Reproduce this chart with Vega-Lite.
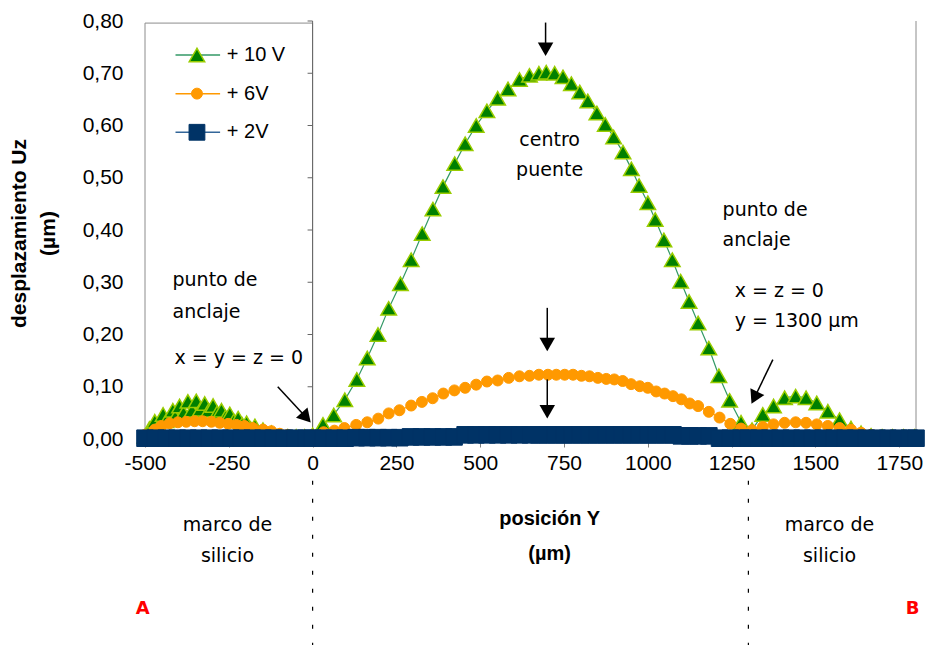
{
  "$schema": "https://vega.github.io/schema/vega-lite/v6.json",
  "width": 771,
  "height": 418,
  "autosize": {"type": "none"},
  "padding": {"left": 145, "top": 21, "right": 12, "bottom": 206},
  "config": {"view": {"stroke": null}, "font": "Liberation Sans"},
  "datasets": {
    "series": [
      {"s": "10V", "x": -500, "y": 0.005}, {"s": "10V", "x": -487, "y": 0.02}, {"s": "10V", "x": -471, "y": 0.034}, {"s": "10V", "x": -462, "y": 0.022},
      {"s": "10V", "x": -446, "y": 0.047}, {"s": "10V", "x": -437, "y": 0.035}, {"s": "10V", "x": -417, "y": 0.055}, {"s": "10V", "x": -410, "y": 0.042},
      {"s": "10V", "x": -397, "y": 0.063}, {"s": "10V", "x": -385, "y": 0.05}, {"s": "10V", "x": -372, "y": 0.072}, {"s": "10V", "x": -360, "y": 0.055},
      {"s": "10V", "x": -347, "y": 0.073}, {"s": "10V", "x": -335, "y": 0.057}, {"s": "10V", "x": -322, "y": 0.068}, {"s": "10V", "x": -310, "y": 0.055},
      {"s": "10V", "x": -297, "y": 0.064}, {"s": "10V", "x": -285, "y": 0.05}, {"s": "10V", "x": -272, "y": 0.055}, {"s": "10V", "x": -260, "y": 0.042},
      {"s": "10V", "x": -247, "y": 0.048}, {"s": "10V", "x": -235, "y": 0.035}, {"s": "10V", "x": -222, "y": 0.04}, {"s": "10V", "x": -210, "y": 0.028},
      {"s": "10V", "x": -197, "y": 0.031}, {"s": "10V", "x": -185, "y": 0.02}, {"s": "10V", "x": -172, "y": 0.025}, {"s": "10V", "x": -148, "y": 0.018},
      {"s": "10V", "x": -123, "y": 0.012}, {"s": "10V", "x": -98, "y": 0.006}, {"s": "10V", "x": -74, "y": 0.005}, {"s": "10V", "x": -49, "y": 0.005},
      {"s": "10V", "x": -24, "y": 0.005}, {"s": "10V", "x": 0, "y": 0.008}, {"s": "10V", "x": 31, "y": 0.028}, {"s": "10V", "x": 63, "y": 0.046},
      {"s": "10V", "x": 96, "y": 0.075}, {"s": "10V", "x": 132, "y": 0.114}, {"s": "10V", "x": 163, "y": 0.155}, {"s": "10V", "x": 195, "y": 0.2},
      {"s": "10V", "x": 227, "y": 0.25}, {"s": "10V", "x": 262, "y": 0.297}, {"s": "10V", "x": 294, "y": 0.343}, {"s": "10V", "x": 327, "y": 0.393},
      {"s": "10V", "x": 359, "y": 0.44}, {"s": "10V", "x": 389, "y": 0.483}, {"s": "10V", "x": 424, "y": 0.527}, {"s": "10V", "x": 455, "y": 0.565},
      {"s": "10V", "x": 488, "y": 0.6}, {"s": "10V", "x": 520, "y": 0.628}, {"s": "10V", "x": 552, "y": 0.652}, {"s": "10V", "x": 583, "y": 0.67},
      {"s": "10V", "x": 617, "y": 0.688}, {"s": "10V", "x": 647, "y": 0.696}, {"s": "10V", "x": 675, "y": 0.7}, {"s": "10V", "x": 697, "y": 0.702},
      {"s": "10V", "x": 722, "y": 0.7}, {"s": "10V", "x": 747, "y": 0.693}, {"s": "10V", "x": 772, "y": 0.68}, {"s": "10V", "x": 797, "y": 0.664},
      {"s": "10V", "x": 821, "y": 0.647}, {"s": "10V", "x": 848, "y": 0.624}, {"s": "10V", "x": 873, "y": 0.602}, {"s": "10V", "x": 898, "y": 0.578},
      {"s": "10V", "x": 926, "y": 0.549}, {"s": "10V", "x": 951, "y": 0.517}, {"s": "10V", "x": 974, "y": 0.485}, {"s": "10V", "x": 1000, "y": 0.452},
      {"s": "10V", "x": 1022, "y": 0.42}, {"s": "10V", "x": 1048, "y": 0.381}, {"s": "10V", "x": 1073, "y": 0.343}, {"s": "10V", "x": 1098, "y": 0.302},
      {"s": "10V", "x": 1123, "y": 0.263}, {"s": "10V", "x": 1150, "y": 0.222}, {"s": "10V", "x": 1182, "y": 0.174}, {"s": "10V", "x": 1212, "y": 0.121},
      {"s": "10V", "x": 1244, "y": 0.074}, {"s": "10V", "x": 1278, "y": 0.032}, {"s": "10V", "x": 1311, "y": 0.018}, {"s": "10V", "x": 1343, "y": 0.047},
      {"s": "10V", "x": 1375, "y": 0.063}, {"s": "10V", "x": 1408, "y": 0.079}, {"s": "10V", "x": 1441, "y": 0.082}, {"s": "10V", "x": 1472, "y": 0.079},
      {"s": "10V", "x": 1504, "y": 0.069}, {"s": "10V", "x": 1537, "y": 0.053}, {"s": "10V", "x": 1572, "y": 0.037}, {"s": "10V", "x": 1606, "y": 0.021},
      {"s": "10V", "x": 1636, "y": 0.012}, {"s": "10V", "x": 1666, "y": 0.007}, {"s": "10V", "x": 1699, "y": 0.005}, {"s": "10V", "x": 1730, "y": 0.005},
      {"s": "10V", "x": 1763, "y": 0.005}, {"s": "10V", "x": 1796, "y": 0.005},

      {"s": "6V", "x": -500, "y": 0.008}, {"s": "6V", "x": -471, "y": 0.018}, {"s": "6V", "x": -451, "y": 0.025}, {"s": "6V", "x": -427, "y": 0.03},
      {"s": "6V", "x": -402, "y": 0.032}, {"s": "6V", "x": -377, "y": 0.033}, {"s": "6V", "x": -352, "y": 0.034}, {"s": "6V", "x": -328, "y": 0.034},
      {"s": "6V", "x": -302, "y": 0.033}, {"s": "6V", "x": -277, "y": 0.031}, {"s": "6V", "x": -252, "y": 0.029}, {"s": "6V", "x": -227, "y": 0.027},
      {"s": "6V", "x": -203, "y": 0.025}, {"s": "6V", "x": -178, "y": 0.021}, {"s": "6V", "x": -148, "y": 0.018}, {"s": "6V", "x": -123, "y": 0.015},
      {"s": "6V", "x": -98, "y": 0.01}, {"s": "6V", "x": -74, "y": 0.008}, {"s": "6V", "x": -49, "y": 0.006}, {"s": "6V", "x": -24, "y": 0.006},
      {"s": "6V", "x": 0, "y": 0.008}, {"s": "6V", "x": 33, "y": 0.013}, {"s": "6V", "x": 65, "y": 0.016}, {"s": "6V", "x": 95, "y": 0.021},
      {"s": "6V", "x": 130, "y": 0.027}, {"s": "6V", "x": 163, "y": 0.032}, {"s": "6V", "x": 196, "y": 0.039}, {"s": "6V", "x": 227, "y": 0.049},
      {"s": "6V", "x": 259, "y": 0.055}, {"s": "6V", "x": 294, "y": 0.064}, {"s": "6V", "x": 326, "y": 0.071}, {"s": "6V", "x": 358, "y": 0.078},
      {"s": "6V", "x": 390, "y": 0.087}, {"s": "6V", "x": 423, "y": 0.093}, {"s": "6V", "x": 455, "y": 0.098}, {"s": "6V", "x": 488, "y": 0.104},
      {"s": "6V", "x": 520, "y": 0.11}, {"s": "6V", "x": 552, "y": 0.112}, {"s": "6V", "x": 585, "y": 0.117}, {"s": "6V", "x": 617, "y": 0.12},
      {"s": "6V", "x": 647, "y": 0.121}, {"s": "6V", "x": 675, "y": 0.123}, {"s": "6V", "x": 702, "y": 0.123}, {"s": "6V", "x": 727, "y": 0.123},
      {"s": "6V", "x": 752, "y": 0.123}, {"s": "6V", "x": 777, "y": 0.123}, {"s": "6V", "x": 802, "y": 0.121}, {"s": "6V", "x": 826, "y": 0.12},
      {"s": "6V", "x": 851, "y": 0.117}, {"s": "6V", "x": 876, "y": 0.115}, {"s": "6V", "x": 900, "y": 0.114}, {"s": "6V", "x": 925, "y": 0.111},
      {"s": "6V", "x": 950, "y": 0.105}, {"s": "6V", "x": 976, "y": 0.101}, {"s": "6V", "x": 1000, "y": 0.098}, {"s": "6V", "x": 1025, "y": 0.091},
      {"s": "6V", "x": 1050, "y": 0.087}, {"s": "6V", "x": 1075, "y": 0.082}, {"s": "6V", "x": 1100, "y": 0.076}, {"s": "6V", "x": 1125, "y": 0.068},
      {"s": "6V", "x": 1150, "y": 0.063}, {"s": "6V", "x": 1182, "y": 0.052}, {"s": "6V", "x": 1214, "y": 0.041}, {"s": "6V", "x": 1246, "y": 0.029},
      {"s": "6V", "x": 1278, "y": 0.02}, {"s": "6V", "x": 1311, "y": 0.017}, {"s": "6V", "x": 1343, "y": 0.023}, {"s": "6V", "x": 1375, "y": 0.028},
      {"s": "6V", "x": 1408, "y": 0.031}, {"s": "6V", "x": 1441, "y": 0.032}, {"s": "6V", "x": 1472, "y": 0.031}, {"s": "6V", "x": 1504, "y": 0.028},
      {"s": "6V", "x": 1537, "y": 0.025}, {"s": "6V", "x": 1572, "y": 0.021}, {"s": "6V", "x": 1606, "y": 0.018}, {"s": "6V", "x": 1636, "y": 0.012},
      {"s": "6V", "x": 1666, "y": 0.008}, {"s": "6V", "x": 1699, "y": 0.006}, {"s": "6V", "x": 1730, "y": 0.005}, {"s": "6V", "x": 1763, "y": 0.005},
      {"s": "6V", "x": 1796, "y": 0.005},

      {"s": "2V", "x": -500, "y": 0.0015}, {"s": "2V", "x": -468, "y": 0.0015}, {"s": "2V", "x": -436, "y": 0.0015}, {"s": "2V", "x": -404, "y": 0.0015},
      {"s": "2V", "x": -372, "y": 0.0015}, {"s": "2V", "x": -340, "y": 0.0015}, {"s": "2V", "x": -308, "y": 0.0015}, {"s": "2V", "x": -276, "y": 0.0015},
      {"s": "2V", "x": -244, "y": 0.0015}, {"s": "2V", "x": -212, "y": 0.0015}, {"s": "2V", "x": -180, "y": 0.0015}, {"s": "2V", "x": -148, "y": 0.0015},
      {"s": "2V", "x": -116, "y": 0.0015}, {"s": "2V", "x": -84, "y": 0.0015}, {"s": "2V", "x": -52, "y": 0.0015}, {"s": "2V", "x": -20, "y": 0.0015},
      {"s": "2V", "x": 0, "y": 0.0015}, {"s": "2V", "x": 32, "y": 0.0015}, {"s": "2V", "x": 65, "y": 0.0015}, {"s": "2V", "x": 97, "y": 0.0015},
      {"s": "2V", "x": 130, "y": 0.0025}, {"s": "2V", "x": 162, "y": 0.0025}, {"s": "2V", "x": 195, "y": 0.0025}, {"s": "2V", "x": 227, "y": 0.0025},
      {"s": "2V", "x": 260, "y": 0.0025}, {"s": "2V", "x": 292, "y": 0.004}, {"s": "2V", "x": 325, "y": 0.004}, {"s": "2V", "x": 357, "y": 0.004},
      {"s": "2V", "x": 390, "y": 0.004}, {"s": "2V", "x": 422, "y": 0.004}, {"s": "2V", "x": 455, "y": 0.008}, {"s": "2V", "x": 487, "y": 0.008},
      {"s": "2V", "x": 520, "y": 0.008}, {"s": "2V", "x": 552, "y": 0.008}, {"s": "2V", "x": 585, "y": 0.008}, {"s": "2V", "x": 617, "y": 0.008},
      {"s": "2V", "x": 650, "y": 0.008}, {"s": "2V", "x": 675, "y": 0.008}, {"s": "2V", "x": 700, "y": 0.008}, {"s": "2V", "x": 725, "y": 0.008},
      {"s": "2V", "x": 750, "y": 0.008}, {"s": "2V", "x": 775, "y": 0.008}, {"s": "2V", "x": 800, "y": 0.008}, {"s": "2V", "x": 825, "y": 0.008},
      {"s": "2V", "x": 850, "y": 0.008}, {"s": "2V", "x": 875, "y": 0.008}, {"s": "2V", "x": 900, "y": 0.008}, {"s": "2V", "x": 925, "y": 0.008},
      {"s": "2V", "x": 950, "y": 0.008}, {"s": "2V", "x": 975, "y": 0.008}, {"s": "2V", "x": 1000, "y": 0.008}, {"s": "2V", "x": 1025, "y": 0.008},
      {"s": "2V", "x": 1050, "y": 0.008}, {"s": "2V", "x": 1075, "y": 0.008}, {"s": "2V", "x": 1100, "y": 0.006}, {"s": "2V", "x": 1125, "y": 0.006},
      {"s": "2V", "x": 1150, "y": 0.006}, {"s": "2V", "x": 1182, "y": 0.006}, {"s": "2V", "x": 1214, "y": 0.0015}, {"s": "2V", "x": 1246, "y": 0.0015},
      {"s": "2V", "x": 1278, "y": 0.0015}, {"s": "2V", "x": 1300, "y": 0.0015}, {"s": "2V", "x": 1332, "y": 0.0015}, {"s": "2V", "x": 1364, "y": 0.0015},
      {"s": "2V", "x": 1396, "y": 0.0015}, {"s": "2V", "x": 1428, "y": 0.0015}, {"s": "2V", "x": 1460, "y": 0.0015}, {"s": "2V", "x": 1492, "y": 0.0015},
      {"s": "2V", "x": 1524, "y": 0.0015}, {"s": "2V", "x": 1556, "y": 0.0015}, {"s": "2V", "x": 1588, "y": 0.0015}, {"s": "2V", "x": 1620, "y": 0.0015},
      {"s": "2V", "x": 1652, "y": 0.0015}, {"s": "2V", "x": 1684, "y": 0.0015}, {"s": "2V", "x": 1716, "y": 0.0015}, {"s": "2V", "x": 1748, "y": 0.0015},
      {"s": "2V", "x": 1780, "y": 0.0015}, {"s": "2V", "x": 1800, "y": 0.0015}
    ],
    "legend": [
      {"s": "10V", "label": "+ 10 V", "x": -409, "x2": -276, "xm": -345, "xt": -256, "y": 0.735},
      {"s": "6V", "label": "+ 6V", "x": -409, "x2": -276, "xm": -345, "xt": -256, "y": 0.661},
      {"s": "2V", "label": "+ 2V", "x": -409, "x2": -276, "xm": -345, "xt": -256, "y": 0.587}
    ],
    "yticks": [
      {"y": 0}, {"y": 0.1}, {"y": 0.2}, {"y": 0.3}, {"y": 0.4}, {"y": 0.5}, {"y": 0.6}, {"y": 0.7}, {"y": 0.8}
    ],
    "textC": [
      {"t": "centro", "x": 707, "y": 0.573},
      {"t": "puente", "x": 707, "y": 0.515},
      {"t": "marco de", "x": -254, "y": -0.165},
      {"t": "silicio", "x": -254, "y": -0.223},
      {"t": "marco de", "x": 1542, "y": -0.165},
      {"t": "silicio", "x": 1542, "y": -0.223}
    ],
    "textL": [
      {"t": "punto de", "x": 1223, "y": 0.439},
      {"t": "anclaje", "x": 1223, "y": 0.381},
      {"t": "x = z = 0", "x": 1259, "y": 0.283},
      {"t": "y = 1300 µm", "x": 1259, "y": 0.225},
      {"t": "punto de", "x": -418, "y": 0.305},
      {"t": "anclaje", "x": -418, "y": 0.244},
      {"t": "x = y = z = 0", "x": -412, "y": 0.155}
    ],
    "textB": [
      {"t": "posición Y", "x": 707, "y": -0.154},
      {"t": "(µm)", "x": 707, "y": -0.221}
    ],
    "textR": [
      {"t": "A", "x": -507, "y": -0.326},
      {"t": "B", "x": 1790, "y": -0.326}
    ],
    "shafts": [
      {"x": 695, "y": 0.797, "x2": 695, "y2": 0.748},
      {"x": 700, "y": 0.251, "x2": 700, "y2": 0.182},
      {"x": 700, "y": 0.114, "x2": 700, "y2": 0.054},
      {"x": -104, "y": 0.1, "x2": -19, "y2": 0.041},
      {"x": 1373, "y": 0.152, "x2": 1318, "y2": 0.079}
    ],
    "heads": [
      {"x": 695, "y": 0.746, "a": 0},
      {"x": 700, "y": 0.181, "a": 0},
      {"x": 700, "y": 0.052, "a": 0},
      {"x": -19, "y": 0.041, "a": -42},
      {"x": 1318, "y": 0.079, "a": 26}
    ],
    "dotted": [
      {"x": 0, "y": -0.08, "y2": -0.4},
      {"x": 1300, "y": -0.08, "y2": -0.4}
    ],
    "box": [
      {"x": -500, "x2": 0, "y": 0, "y2": 0.796}
    ],
    "rborder": [
      {"x": 1800, "y": 0, "y2": 0.8}
    ]
  },
  "layer": [
    {
      "data": {"name": "box"},
      "mark": {"type": "rect", "filled": false, "stroke": "#8c8c8c", "strokeWidth": 1},
      "encoding": {
        "x": {"field": "x", "type": "quantitative", "scale": {"domain": [-500, 1800], "nice": false, "zero": false},
          "axis": {"values": [-500, -250, 0, 250, 500, 750, 1000, 1250, 1500, 1750], "title": null, "grid": false,
            "labelExpr": "toString(datum.value)", "labelFont": "Liberation Sans", "labelFontSize": 21, "labelColor": "#000",
            "tickSize": 8, "tickColor": "#808080", "domainColor": "#808080", "labelPadding": 5, "labelFlush": false, "labelOverlap": false}},
        "x2": {"field": "x2"},
        "y": {"field": "y", "type": "quantitative", "scale": {"domain": [0, 0.8], "nice": false, "zero": false},
          "axis": {"values": [0, 0.1, 0.2, 0.3, 0.4, 0.5, 0.6, 0.7, 0.8], "grid": false, "domain": false, "ticks": false,
            "labelExpr": "replace(format(datum.value, '.2f'), '.', ',')", "labelFont": "Liberation Sans", "labelFontSize": 21,
            "labelColor": "#000", "labelPadding": 22, "labelFlush": false, "labelOverlap": false,
            "title": ["desplazamiento Uz", "(µm)"], "titleFont": "Liberation Sans", "titleFontSize": 21, "titleFontWeight": "bold",
            "titleColor": "#000", "titleAngle": -90, "titleAlign": "center", "titleBaseline": "top", "titleLineHeight": 29,
            "titleX": -137, "titleY": 212}},
        "y2": {"field": "y2"}
      }
    },
    {
      "data": {"name": "rborder"},
      "mark": {"type": "rule", "stroke": "#8c8c8c", "strokeWidth": 1},
      "encoding": {
        "x": {"field": "x", "type": "quantitative"},
        "y": {"field": "y", "type": "quantitative"},
        "y2": {"field": "y2"}
      }
    },
    {
      "data": {"name": "rborder"},
      "mark": {"type": "rule", "stroke": "#666666", "strokeWidth": 1},
      "encoding": {
        "x": {"datum": 0, "type": "quantitative"},
        "y": {"datum": 0, "type": "quantitative"},
        "y2": {"datum": 0.8}
      }
    },
    {
      "data": {"name": "yticks"},
      "mark": {"type": "rule", "stroke": "#666666", "strokeWidth": 1},
      "encoding": {
        "x": {"datum": -15, "type": "quantitative"},
        "x2": {"datum": 0},
        "y": {"field": "y", "type": "quantitative"}
      }
    },
    {
      "data": {"name": "dotted"},
      "mark": {"type": "rule", "stroke": "#000000", "strokeWidth": 1.2, "strokeDash": [4, 14], "clip": false},
      "encoding": {
        "x": {"field": "x", "type": "quantitative"},
        "y": {"field": "y", "type": "quantitative"},
        "y2": {"field": "y2"}
      }
    },
    {
      "data": {"name": "series"},
      "mark": {"type": "line", "strokeWidth": 1.2, "clip": false},
      "encoding": {
        "x": {"field": "x", "type": "quantitative"},
        "y": {"field": "y", "type": "quantitative"},
        "order": {"field": "x", "type": "quantitative"},
        "color": {"field": "s", "type": "nominal", "legend": null,
          "scale": {"domain": ["10V", "6V", "2V"], "range": ["#339966", "#ff9900", "#336699"]}}
      }
    },
    {
      "data": {"name": "series"},
      "transform": [{"filter": {"field": "s", "equal": "10V"}}],
      "mark": {"type": "point", "shape": "triangle-up", "filled": true, "opacity": 1, "fill": "#008000", "stroke": "#99cc00", "strokeWidth": 1.5, "size": 240, "clip": false},
      "encoding": {
        "x": {"field": "x", "type": "quantitative"},
        "y": {"field": "y", "type": "quantitative"}
      }
    },
    {
      "data": {"name": "series"},
      "transform": [{"filter": {"field": "s", "equal": "6V"}}],
      "mark": {"type": "point", "shape": "circle", "filled": true, "opacity": 1, "fill": "#ff9900", "stroke": "#ff9900", "strokeWidth": 1, "size": 120, "clip": false},
      "encoding": {
        "x": {"field": "x", "type": "quantitative"},
        "y": {"field": "y", "type": "quantitative"}
      }
    },
    {
      "data": {"name": "series"},
      "transform": [{"filter": {"field": "s", "equal": "2V"}}],
      "mark": {"type": "point", "shape": "square", "filled": true, "opacity": 1, "fill": "#003366", "stroke": "#003366", "strokeWidth": 1, "size": 275, "clip": false},
      "encoding": {
        "x": {"field": "x", "type": "quantitative"},
        "y": {"field": "y", "type": "quantitative"}
      }
    },
    {
      "data": {"name": "legend"},
      "mark": {"type": "rule", "strokeWidth": 1.5},
      "encoding": {
        "x": {"field": "x", "type": "quantitative"},
        "x2": {"field": "x2"},
        "y": {"field": "y", "type": "quantitative"},
        "color": {"field": "s", "type": "nominal", "legend": null,
          "scale": {"domain": ["10V", "6V", "2V"], "range": ["#339966", "#ff9900", "#336699"]}}
      }
    },
    {
      "data": {"name": "legend"},
      "transform": [{"filter": {"field": "s", "equal": "10V"}}],
      "mark": {"type": "point", "shape": "triangle-up", "filled": true, "opacity": 1, "fill": "#008000", "stroke": "#99cc00", "strokeWidth": 1.5, "size": 240},
      "encoding": {
        "x": {"field": "xm", "type": "quantitative"},
        "y": {"field": "y", "type": "quantitative"}
      }
    },
    {
      "data": {"name": "legend"},
      "transform": [{"filter": {"field": "s", "equal": "6V"}}],
      "mark": {"type": "point", "shape": "circle", "filled": true, "opacity": 1, "fill": "#ff9900", "stroke": "#ff9900", "strokeWidth": 1, "size": 120},
      "encoding": {
        "x": {"field": "xm", "type": "quantitative"},
        "y": {"field": "y", "type": "quantitative"}
      }
    },
    {
      "data": {"name": "legend"},
      "transform": [{"filter": {"field": "s", "equal": "2V"}}],
      "mark": {"type": "point", "shape": "square", "filled": true, "opacity": 1, "fill": "#003366", "stroke": "#003366", "strokeWidth": 1, "size": 250},
      "encoding": {
        "x": {"field": "xm", "type": "quantitative"},
        "y": {"field": "y", "type": "quantitative"}
      }
    },
    {
      "data": {"name": "legend"},
      "mark": {"type": "text", "align": "left", "baseline": "middle", "font": "Liberation Sans", "fontSize": 20, "color": "#000"},
      "encoding": {
        "x": {"field": "xt", "type": "quantitative"},
        "y": {"field": "y", "type": "quantitative"},
        "text": {"field": "label"}
      }
    },
    {
      "data": {"name": "shafts"},
      "mark": {"type": "rule", "stroke": "#000", "strokeWidth": 1.5, "clip": false},
      "encoding": {
        "x": {"field": "x", "type": "quantitative"},
        "y": {"field": "y", "type": "quantitative"},
        "x2": {"field": "x2"},
        "y2": {"field": "y2"}
      }
    },
    {
      "data": {"name": "heads"},
      "mark": {"type": "point", "shape": "triangle-down", "filled": true, "color": "#000", "opacity": 1, "size": 240},
      "encoding": {
        "x": {"field": "x", "type": "quantitative"},
        "y": {"field": "y", "type": "quantitative"},
        "angle": {"field": "a", "type": "quantitative", "scale": null}
      }
    },
    {
      "data": {"name": "textC"},
      "mark": {"type": "text", "align": "center", "baseline": "middle", "font": "DejaVu Sans", "fontSize": 19, "color": "#000"},
      "encoding": {
        "x": {"field": "x", "type": "quantitative"},
        "y": {"field": "y", "type": "quantitative"},
        "text": {"field": "t"}
      }
    },
    {
      "data": {"name": "textL"},
      "mark": {"type": "text", "align": "left", "baseline": "middle", "font": "DejaVu Sans", "fontSize": 19, "color": "#000"},
      "encoding": {
        "x": {"field": "x", "type": "quantitative"},
        "y": {"field": "y", "type": "quantitative"},
        "text": {"field": "t"}
      }
    },
    {
      "data": {"name": "textB"},
      "mark": {"type": "text", "align": "center", "baseline": "middle", "font": "Liberation Sans", "fontSize": 20, "fontWeight": "bold", "color": "#000"},
      "encoding": {
        "x": {"field": "x", "type": "quantitative"},
        "y": {"field": "y", "type": "quantitative"},
        "text": {"field": "t"}
      }
    },
    {
      "data": {"name": "textR"},
      "mark": {"type": "text", "align": "center", "baseline": "middle", "font": "DejaVu Sans", "fontSize": 18, "fontWeight": "bold", "color": "#ff0000"},
      "encoding": {
        "x": {"field": "x", "type": "quantitative"},
        "y": {"field": "y", "type": "quantitative"},
        "text": {"field": "t"}
      }
    }
  ]
}
